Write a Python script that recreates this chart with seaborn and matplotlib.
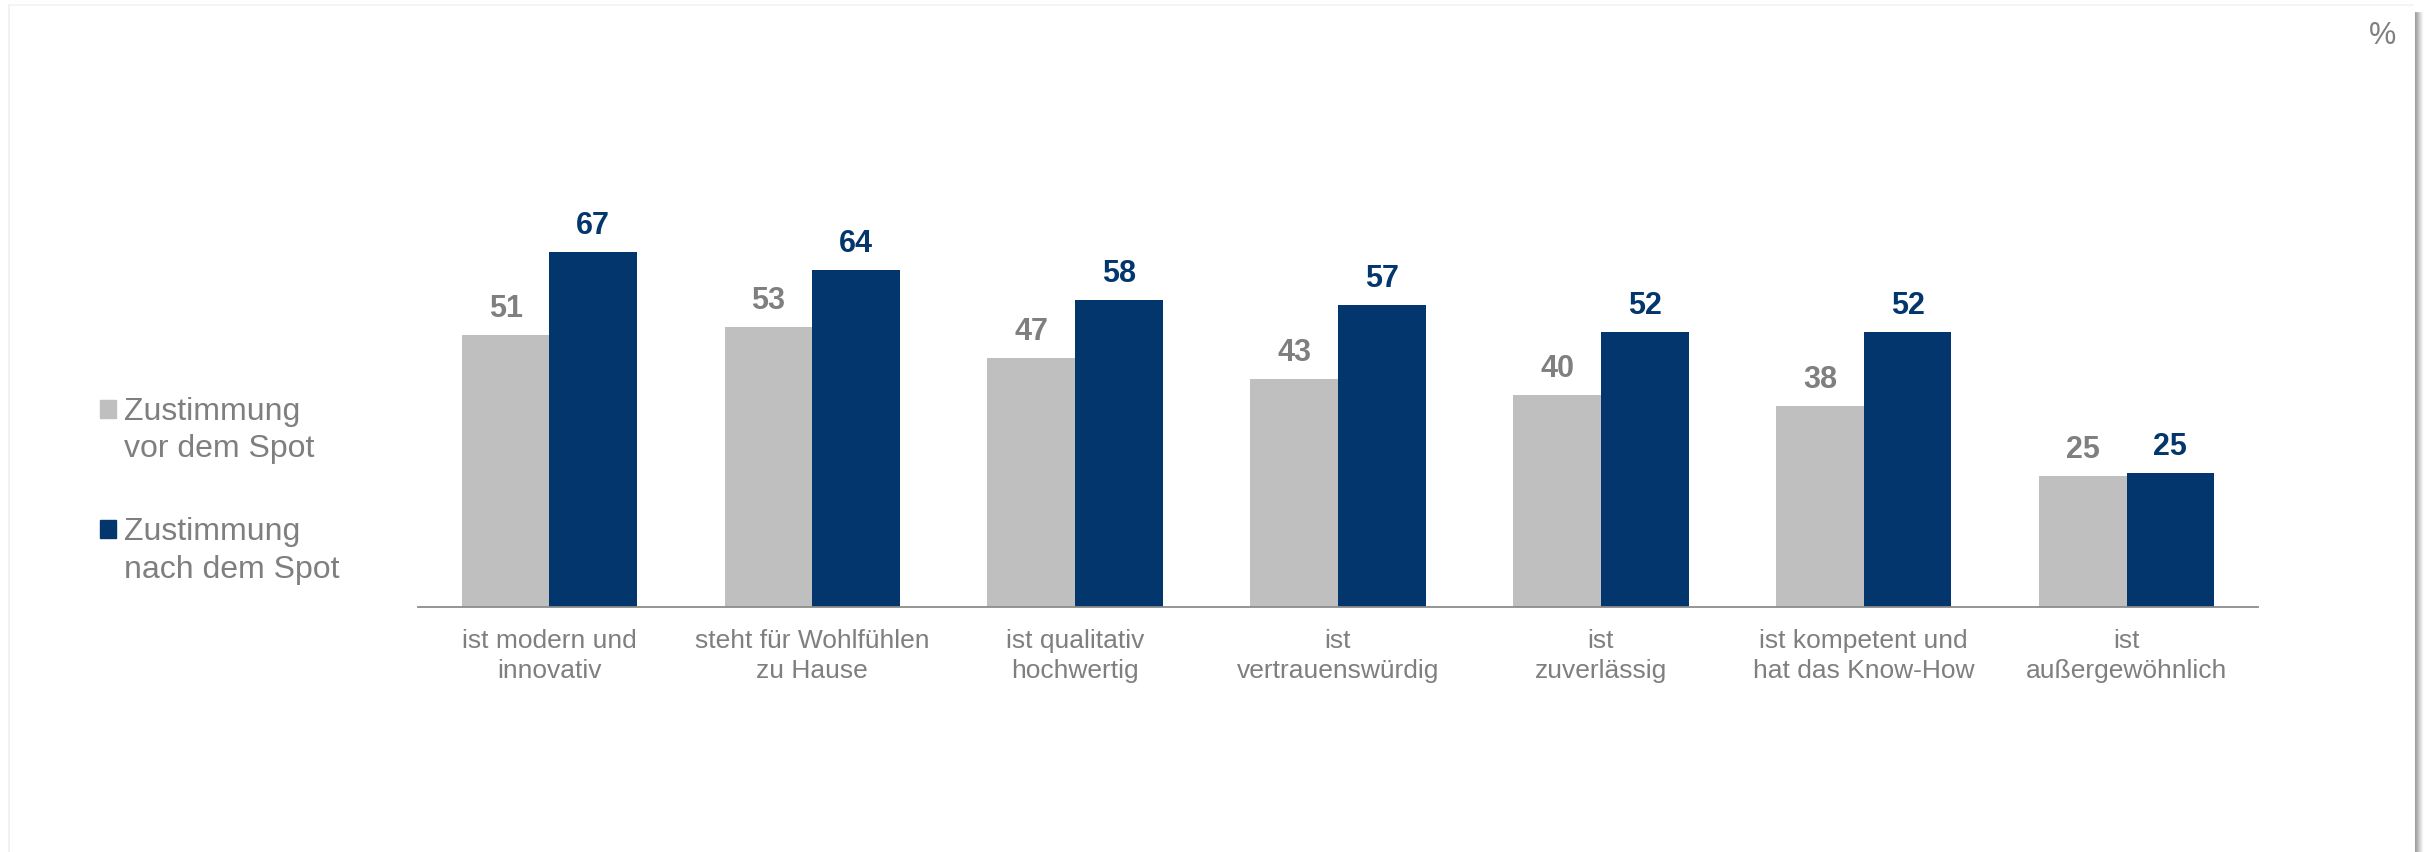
import pandas as pd
import numpy as np
import seaborn as sns
import matplotlib.pyplot as plt
from matplotlib.lines import Line2D
from matplotlib.patches import Rectangle
from matplotlib.legend_handler import HandlerPatch

# chart values
categories = ['ist modern und\ninnovativ', 'steht für Wohlfühlen\nzu Hause', 'ist qualitativ\nhochwertig',
              'ist\nvertrauenswürdig', 'ist\nzuverlässig', 'ist kompetent und\nhat das Know-How',
              'ist\naußergewöhnlich']
series_names = ['Zustimmung\nvor dem Spot', 'Zustimmung\nnach dem Spot']
vor_values = [51.4, 52.9, 47, 43, 40, 38, 24.7]
nach_values = [67, 63.6, 58, 57, 52, 52, 25.2]

GRAY_BAR = '#BFBFBF'
BLUE_BAR = '#02366C'
TEXT_GRAY = '#7F7F7F'

sns.set_style('white')
plt.rcParams['font.family'] = ['Liberation Sans', 'DejaVu Sans']

df = pd.DataFrame({
    'Merkmal': categories * 2,
    'Wert': vor_values + nach_values,
    'Zeitpunkt': [series_names[0]] * len(categories) + [series_names[1]] * len(categories),
})

W, H = 2433, 852
fig = plt.figure(figsize=(W / 100, H / 100), dpi=100)
ymax = 80
base_px = 606.5
px_per_unit = 5.285
ax = fig.add_axes([418 / W, (H - base_px) / H, (2258 - 418) / W, ymax * px_per_unit / H])

sns.barplot(data=df, x='Merkmal', y='Wert', hue='Zeitpunkt', palette=[GRAY_BAR, BLUE_BAR],
            width=0.667, saturation=1, ax=ax, legend=False, errorbar=None, linewidth=0)

ax.set_xlim(-0.5, len(categories) - 0.5)
ax.set_ylim(0, ymax)
ax.set_yticks([])
ax.set_xlabel('')
ax.set_ylabel('')
for s in ['top', 'right', 'left']:
    ax.spines[s].set_visible(False)
ax.spines['bottom'].set_color('#8C8C8C')
ax.spines['bottom'].set_linewidth(1.3)

# category labels, ticks at group borders
ax.set_xticks(np.arange(len(categories)))
ax.set_xticklabels(categories, fontsize=19, color=TEXT_GRAY, linespacing=1.35)
ax.tick_params(axis='x', which='major', length=0, pad=16)
ax.set_xticks(np.arange(len(categories) + 1) - 0.5, minor=True)
ax.tick_params(axis='x', which='minor', length=5, width=1.3, color='#8C8C8C', direction='out')

# value labels
label_colors = [TEXT_GRAY, BLUE_BAR]
for cont, col in zip(ax.containers, label_colors):
    ax.bar_label(cont, labels=[f'{b.get_height():.0f}' for b in cont], padding=8,
                 fontsize=22, fontweight='bold', color=col)


# legend square sits beside the first text line
def top_square(legend, orig_handle, xdescent, ydescent, width, height, fontsize):
    return Rectangle((-xdescent, -ydescent + 0.68 * fontsize), width, height)


handles = [Rectangle((0, 0), 1, 1, color=GRAY_BAR), Rectangle((0, 0), 1, 1, color=BLUE_BAR)]
leg = fig.legend(handles, series_names, loc='upper left', bbox_to_anchor=(87 / W, 1 - 384 / H),
                 frameon=False, fontsize=23, labelcolor=TEXT_GRAY, handlelength=0.5,
                 handleheight=0.5, handletextpad=0.25, labelspacing=1.65, borderaxespad=0,
                 handler_map={Rectangle: HandlerPatch(patch_func=top_square)})
for t in leg.get_texts():
    t.set_linespacing(1.33)

fig.text(2383 / W, 1 - 36 / H, '%', fontsize=22, color=TEXT_GRAY, ha='center', va='center')

# slide frame and shadow
fig.add_artist(Line2D([9 / W, 9 / W], [0, 1 - 5 / H], transform=fig.transFigure, color='#EFEFEF', lw=1.2))
fig.add_artist(Line2D([9 / W, 2413 / W], [1 - 5 / H, 1 - 5 / H], transform=fig.transFigure, color='#F2F2F2', lw=1.2))
shadow = ['#9E9E9E', '#A8A8A8', '#B4B4B4', '#C2C2C2', '#CFCFCF', '#DCDCDC', '#E8E8E8', '#F3F3F3']
for i, c in enumerate(shadow):
    x = (2414.5 + i) / W
    fig.add_artist(Line2D([x, x], [0, 1 - 12 / H], transform=fig.transFigure, color=c, lw=0.75))

fig.savefig('out.png', dpi=100, facecolor='white')
